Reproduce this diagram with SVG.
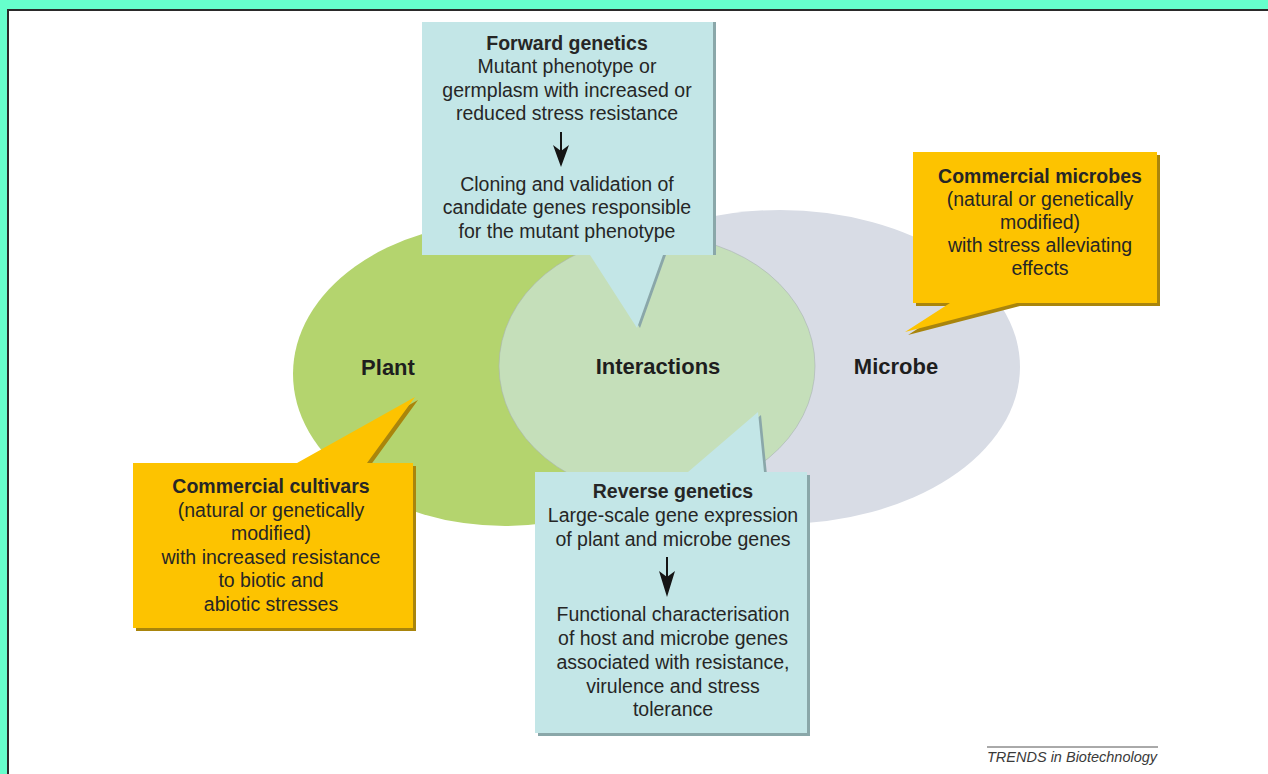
<svg xmlns="http://www.w3.org/2000/svg" width="1268" height="774" viewBox="0 0 1268 774">
  <defs>
    <style>
      .t { font-family: "Liberation Sans", Arial, sans-serif; font-size: 19.5px; fill: #262626; text-anchor: middle; }
      .b { font-weight: bold; }
      .lbl { font-family: "Liberation Sans", Arial, sans-serif; font-size: 22px; font-weight: bold; fill: #1e1e1e; text-anchor: middle; }
      .blue { fill: #c3e6e7; }
      .blueSh { fill: #8aa7a9; }
      .orange { fill: #fdc300; }
      .orangeSh { fill: #a9850c; }
      .arrowLine { stroke: #151515; stroke-width: 2; fill: none; }
      .arrowHead { fill: #151515; }
    </style>
  </defs>

  <g id="background">
    <rect x="0" y="0" width="1268" height="774" fill="#66ffcc"/>
    <rect x="8" y="10" width="1262" height="766" fill="#ffffff" stroke="#2a2a2a" stroke-width="2"/>
  </g>

  <g id="plant">
    <ellipse cx="505" cy="374" rx="212" ry="152" fill="#b4d46e"/>
  </g>
  <g id="microbe">
    <ellipse cx="780" cy="367" rx="240" ry="157" fill="#d8dce5"/>
  </g>
  <g id="interactions">
    <ellipse cx="657" cy="366" rx="158" ry="130" fill="#c5dfba" stroke="#a9b3b3" stroke-width="1" stroke-opacity="0.6"/>
  </g>
  <g id="labels">
    <text class="lbl" x="388" y="375">Plant</text>
    <text class="lbl" x="658" y="374">Interactions</text>
    <text class="lbl" x="896" y="374">Microbe</text>
  </g>

  <g id="forward-genetics">
    <path class="blueSh" transform="translate(3,0)" d="M422,22 H713 V255 H663 L637,328 L590,255 H422 Z"/>
    <path class="blue" d="M422,22 H713 V255 H663 L637,328 L590,255 H422 Z"/>
    <text class="t b" x="567" y="50">Forward genetics</text>
    <text class="t" x="567" y="73">Mutant phenotype or</text>
    <text class="t" x="567" y="96.5">germplasm with increased or</text>
    <text class="t" x="567" y="120">reduced stress resistance</text>
    <text class="t" x="567" y="190.5">Cloning and validation of</text>
    <text class="t" x="567" y="214">candidate genes responsible</text>
    <text class="t" x="567" y="237.5">for the mutant phenotype</text>
  </g>

  <g id="commercial-microbes">
    <path class="orangeSh" transform="translate(3,3)" d="M913,152 H1157 V303 H1017 L905,332 L950,303 H913 Z"/>
    <path class="orange" d="M913,152 H1157 V303 H1017 L905,332 L950,303 H913 Z"/>
    <text class="t b" x="1040" y="183">Commercial microbes</text>
    <text class="t" x="1040" y="206">(natural or genetically</text>
    <text class="t" x="1040" y="229">modified)</text>
    <text class="t" x="1040" y="252">with stress alleviating</text>
    <text class="t" x="1040" y="275">effects</text>
  </g>

  <g id="commercial-cultivars">
    <path class="orangeSh" transform="translate(3,3)" d="M133,463 H297 L415,397 L367,463 H413 V628 H133 Z"/>
    <path class="orange" d="M133,463 H297 L415,397 L367,463 H413 V628 H133 Z"/>
    <text class="t b" x="271" y="493">Commercial cultivars</text>
    <text class="t" x="271" y="516.5">(natural or genetically</text>
    <text class="t" x="271" y="540">modified)</text>
    <text class="t" x="271" y="563.5">with increased resistance</text>
    <text class="t" x="271" y="587">to biotic and</text>
    <text class="t" x="271" y="610.5">abiotic stresses</text>
  </g>

  <g id="reverse-genetics">
    <path class="blueSh" transform="translate(3,3)" d="M535,472 H688 L758,412 L764,472 H807 V733 H535 Z"/>
    <path class="blue" d="M535,472 H688 L758,412 L764,472 H807 V733 H535 Z"/>
    <text class="t b" x="673" y="498">Reverse genetics</text>
    <text class="t" x="673" y="522">Large-scale gene expression</text>
    <text class="t" x="673" y="546">of plant and microbe genes</text>
    <text class="t" x="673" y="621">Functional characterisation</text>
    <text class="t" x="673" y="645">of host and microbe genes</text>
    <text class="t" x="673" y="669">associated with resistance,</text>
    <text class="t" x="673" y="693">virulence and stress</text>
    <text class="t" x="673" y="716">tolerance</text>
  </g>

  <g id="connectors">
    <line class="arrowLine" x1="561" y1="132" x2="561" y2="152"/>
    <path class="arrowHead" d="M553,145 L561,167 L569,145 L561,151 Z"/>
    <line class="arrowLine" x1="667" y1="557" x2="667" y2="578"/>
    <path class="arrowHead" d="M659,571 L667,597 L675,571 L667,577 Z"/>
  </g>

  <g id="credit">
    <line x1="987" y1="747" x2="1158" y2="747" stroke="#555" stroke-width="1"/>
    <text x="987" y="762" font-family="Liberation Sans, Arial, sans-serif" font-size="14.5" font-style="italic" fill="#3a3a3a">TRENDS in Biotechnology</text>
  </g>
</svg>
